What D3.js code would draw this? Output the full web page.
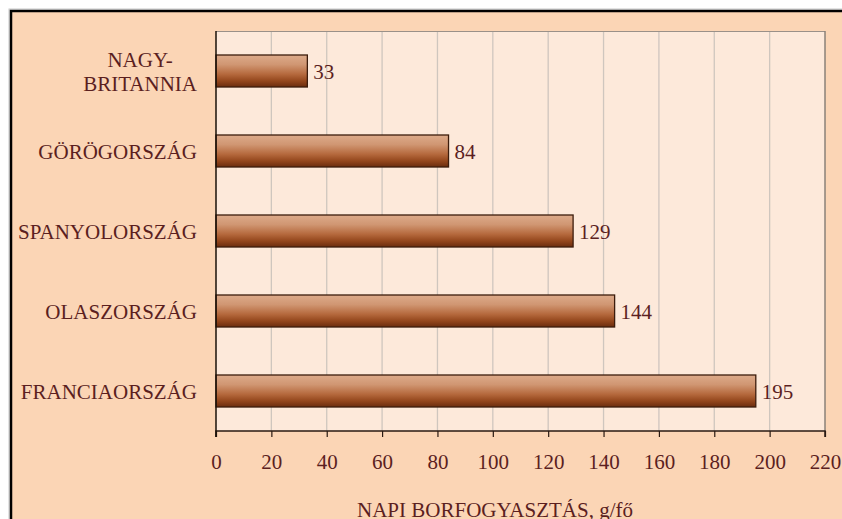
<!DOCTYPE html>
<html><head><meta charset="utf-8">
<script src="https://cdn.jsdelivr.net/npm/d3@7"></script>
<style>
html,body{margin:0;padding:0;background:#fff;}
svg{display:block;}
text{font-family:"Liberation Serif","Times New Roman",serif;fill:#5B1F1F;}
</style></head>
<body>
<svg id="chart" width="842" height="519"></svg>
<script>
const categories = [["NAGY-","BRITANNIA"],["GÖRÖGORSZÁG"],["SPANYOLORSZÁG"],["OLASZORSZÁG"],["FRANCIAORSZÁG"]];
const values = [33, 84, 129, 144, 195];
const tickValues = [0,20,40,60,80,100,120,140,160,180,200,220];
const axisTitle = "NAPI BORFOGYASZTÁS, g/fő";

const svg = d3.select("#chart");
const W = 842, H = 519;
const plot = {left:216, right:825, top:31, bottom:431};

const defs = svg.append("defs");
const grad = defs.append("linearGradient").attr("id","barGrad").attr("x1",0).attr("y1",0).attr("x2",0).attr("y2",1);
[[0,"#DDAB8A"],[0.3,"#D09672"],[0.6,"#B5693D"],[0.82,"#92451B"],[1,"#6A2C0E"]].forEach(s=>grad.append("stop").attr("offset",s[0]).attr("stop-color",s[1]));

// outer frame
svg.append("rect").attr("x",9).attr("y",9).attr("width",W+10).attr("height",H+10).attr("fill","none").attr("stroke","#c8c8c8").attr("stroke-width",1);
svg.append("rect").attr("x",11).attr("y",11).attr("width",W+10).attr("height",H+10).attr("fill","#FBD5B5").attr("stroke","#000").attr("stroke-width",2.5);

const x = d3.scaleLinear().domain([0,220]).range([plot.left, plot.right]);
const y = d3.scaleBand().domain(d3.range(categories.length)).range([plot.top, plot.bottom]).paddingInner(0.6).paddingOuter(0.3);

// plot background
svg.append("rect").attr("x",plot.left).attr("y",plot.top).attr("width",plot.right-plot.left).attr("height",plot.bottom-plot.top).attr("fill","#FDE9DA");

// gridlines
svg.append("g").selectAll("line").data(tickValues.slice(1,-1)).join("line")
  .attr("x1",d=>x(d)).attr("x2",d=>x(d)).attr("y1",plot.top).attr("y2",plot.bottom)
  .attr("stroke","#CFC6BE").attr("stroke-width",1.3);

// plot border top/right
svg.append("line").attr("x1",plot.left).attr("x2",plot.right).attr("y1",plot.top+0.5).attr("y2",plot.top+0.5).attr("stroke","#9a9088").attr("stroke-width",1);
svg.append("line").attr("x1",plot.right).attr("x2",plot.right).attr("y1",plot.top).attr("y2",plot.bottom).attr("stroke","#8a8078").attr("stroke-width",1.5);

// bars
svg.append("g").selectAll("rect").data(values).join("rect")
  .attr("x",x(0)).attr("y",(d,i)=>y(i)).attr("width",d=>x(d)-x(0)).attr("height",y.bandwidth())
  .attr("fill","url(#barGrad)").attr("stroke","#3C1C0C").attr("stroke-width",1.3);

// value labels
svg.append("g").selectAll("text").data(values).join("text")
  .attr("x",d=>x(d)+6).attr("y",(d,i)=>y(i)+y.bandwidth()/2+7.5)
  .attr("font-size",21).text(d=>d);

// category labels
const catG = svg.append("g");
categories.forEach((lines,i)=>{
  const cy = y(i)+y.bandwidth()/2;
  if(lines.length===1){
    catG.append("text").attr("x",197).attr("y",cy+7.5).attr("text-anchor","end").attr("font-size",21).text(lines[0]);
  } else {
    const t = catG.append("text").attr("font-size",21).attr("text-anchor","middle");
    const widest = lines[lines.length-1];
    const tmp = catG.append("text").attr("font-size",21).text(widest);
    const wdt = tmp.node().getComputedTextLength(); tmp.remove();
    const cx = 197 - wdt/2;
    lines.forEach((l,k)=>t.append("tspan").attr("x",cx).attr("y",cy-4.5+k*24.5).text(l));
  }
});

// x axis
const ax = svg.append("g").attr("transform",`translate(0,${plot.bottom})`)
  .call(d3.axisBottom(x).tickValues(tickValues).tickSize(6).tickPadding(0).tickFormat(d3.format("d")));
ax.select(".domain").attr("stroke","#2a1a12").attr("stroke-width",1.5).attr("d",`M${plot.left},6V0H${plot.right}V6`);
ax.selectAll(".tick line").attr("stroke","#2a1a12").attr("stroke-width",1.2);
ax.selectAll(".tick text").attr("font-size",21).attr("font-family",null).attr("fill","#5B1F1F").attr("dy",null).attr("y",38);

// left axis line
svg.append("line").attr("x1",plot.left).attr("x2",plot.left).attr("y1",plot.top).attr("y2",plot.bottom+6).attr("stroke","#1a1008").attr("stroke-width",1.5);

// axis title
svg.append("text").attr("x",495).attr("y",517).attr("text-anchor","middle").attr("font-size",21).text(axisTitle);
</script>
</body></html>
